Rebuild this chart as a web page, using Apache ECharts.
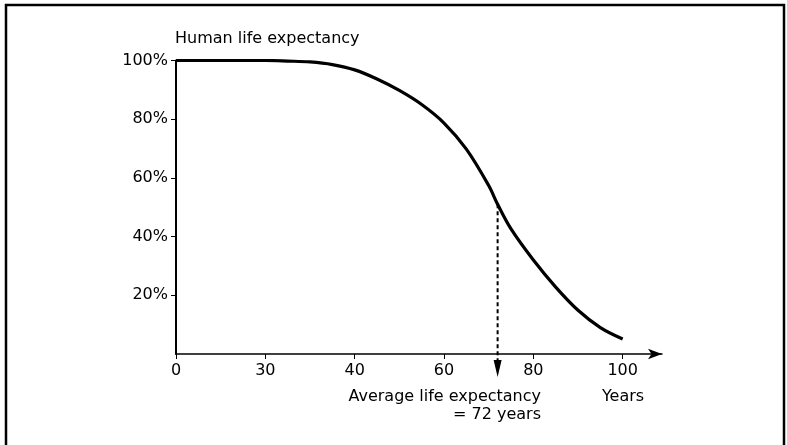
<!DOCTYPE html>
<html>
<head>
<meta charset="utf-8">
<title>Human life expectancy</title>
<script src="https://cdn.jsdelivr.net/npm/echarts@6/dist/echarts.min.js"></script>
<style>
  html, body { margin: 0; padding: 0; background: #fff; }
  #chart { width: 787px; height: 445px; }
</style>
</head>
<body>
<div id="chart"></div>
<script>
// Tick labels of the age axis (equally spaced, the first interval is condensed)
const tickYears = [0, 30, 40, 60, 80, 100];
const percentTicks = [20, 40, 60, 80, 100];

// Survival curve: age in years and share still alive (%)
const ages = [0, 10, 20, 30, 32.5, 35, 37.5, 40, 45, 50, 55, 60, 65, 70, 72, 75, 80, 85, 90, 95, 100];
const survival = [100, 100, 100, 100, 99.8, 99.5, 98.6, 96.8, 93.7, 89.8, 85.0, 78.7, 69.8, 57.4, 51, 42.6, 32.0, 22.8, 14.9, 9.0, 5.1];

// Average life expectancy marker
const averageAge = 72;
const averageShare = 51;

// Map an age onto the axis, where each tick interval has the same width
function agePos(age) {
  for (let i = 0; i < tickYears.length - 1; i++) {
    const a = tickYears[i], b = tickYears[i + 1];
    if (age <= b) return i + (age - a) / (b - a);
  }
  const n = tickYears.length - 1;
  return n + (age - tickYears[n]) / (tickYears[n] - tickYears[n - 1]);
}

const ink = '#000';
const font = 'DejaVu Sans';
const tickIdx = tickYears.map((_, i) => i);

const chart = echarts.init(document.getElementById('chart'), null, { renderer: 'canvas' });

chart.setOption({
  animation: false,
  backgroundColor: '#fff',
  grid: { left: 176, right: 125, top: 60.5, bottom: 91, containLabel: false },
  xAxis: {
    type: 'value',
    min: 0,
    max: 5.44,
    interval: 1,
    splitLine: { show: false },
    axisLine: {
      show: true,
      onZero: false,
      symbol: ['none', 'arrow'],
      symbolSize: [8, 14],
      lineStyle: { color: ink, width: 1.5 }
    },
    axisTick: { show: true, length: 5, customValues: tickIdx, lineStyle: { color: ink, width: 1 } },
    axisLabel: {
      customValues: tickIdx,
      margin: 9,
      color: ink,
      fontFamily: font,
      fontSize: 16,
      formatter: v => String(tickYears[Math.round(v)])
    }
  },
  yAxis: {
    type: 'value',
    min: 0,
    max: 100,
    interval: 20,
    splitLine: { show: false },
    axisLine: { show: true, onZero: false, lineStyle: { color: ink, width: 2 } },
    axisTick: { show: true, length: 5, customValues: percentTicks, lineStyle: { color: ink, width: 1 } },
    axisLabel: {
      customValues: percentTicks,
      margin: 8,
      color: ink,
      fontFamily: font,
      fontSize: 16,
      formatter: v => v + '%'
    }
  },
  series: [
    {
      type: 'line',
      name: 'Survival',
      data: ages.map((a, i) => [agePos(a), survival[i]]),
      smooth: 0.35,
      showSymbol: false,
      lineStyle: { color: ink, width: 3.2 },
      z: 3
    },
    {
      type: 'custom',
      name: 'Average',
      data: [[agePos(averageAge), averageShare]],
      renderItem: function (params, api) {
        const top = api.coord([api.value(0), api.value(1)]);
        const base = api.coord([api.value(0), 0]);
        return {
          type: 'group',
          children: [
            {
              type: 'line',
              shape: { x1: top[0], y1: top[1], x2: base[0], y2: base[1] + 7 },
              style: { stroke: ink, lineWidth: 2, lineDash: [4, 3] }
            },
            {
              type: 'polygon',
              shape: { points: [[base[0] - 4, base[1] + 6], [base[0] + 4, base[1] + 6], [base[0], base[1] + 23]] },
              style: { fill: ink }
            }
          ]
        };
      },
      z: 4
    }
  ],
  graphic: [
    {
      type: 'rect',
      shape: { x: 6, y: 5, width: 778, height: 470 },
      style: { fill: 'none', stroke: '#000', lineWidth: 2.5 },
      silent: true
    },
    {
      type: 'text',
      x: 175, y: 39,
      style: { text: 'Human life expectancy', fill: ink, font: '16px "' + font + '"', textAlign: 'left', textVerticalAlign: 'middle' }
    },
    {
      type: 'text',
      x: 541, y: 397,
      style: { text: 'Average life expectancy', fill: ink, font: '16px "' + font + '"', textAlign: 'right', textVerticalAlign: 'middle' }
    },
    {
      type: 'text',
      x: 541, y: 415,
      style: { text: '= ' + averageAge + ' years', fill: ink, font: '16px "' + font + '"', textAlign: 'right', textVerticalAlign: 'middle' }
    },
    {
      type: 'text',
      x: 623, y: 397,
      style: { text: 'Years', fill: ink, font: '16px "' + font + '"', textAlign: 'center', textVerticalAlign: 'middle' }
    }
  ]
});
</script>
</body>
</html>
